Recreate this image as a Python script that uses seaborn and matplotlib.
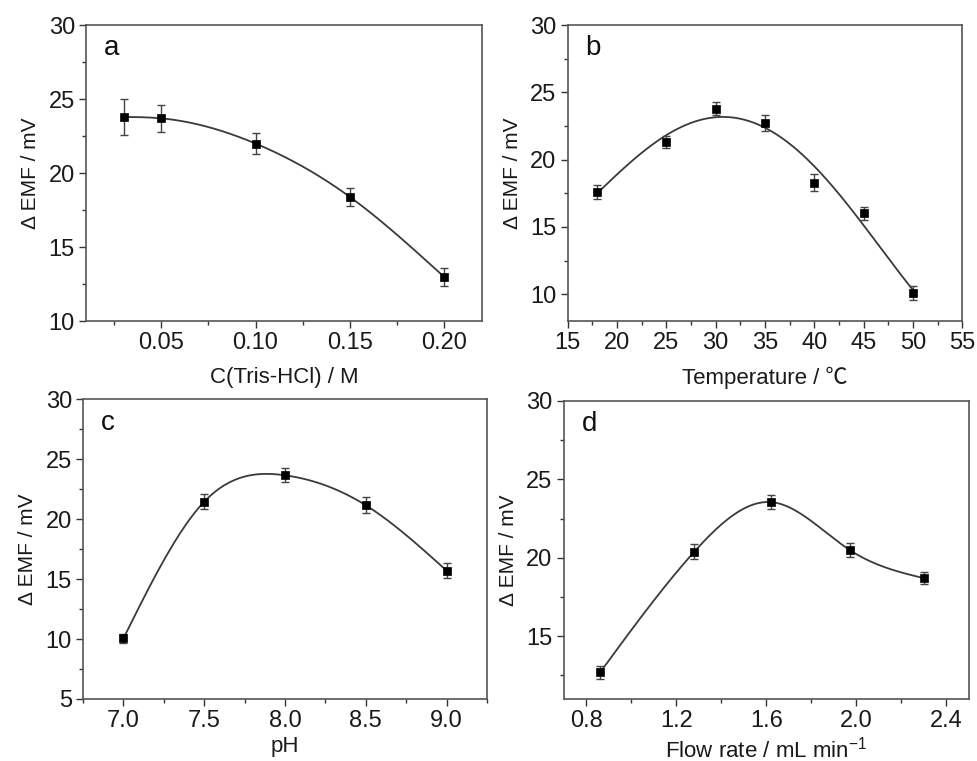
import numpy as np
import pandas as pd
import matplotlib
matplotlib.use("Agg")
import matplotlib.pyplot as plt
import seaborn as sns
from matplotlib.ticker import MultipleLocator, FormatStrFormatter

# data
tris_conc = [0.03, 0.05, 0.10, 0.15, 0.20]
tris_emf = [23.8, 23.7, 22.0, 18.4, 13.0]
tris_err = [1.2, 0.9, 0.7, 0.6, 0.6]

temp = [18, 25, 30, 35, 40, 45, 50]
temp_emf = [17.6, 21.3, 23.8, 22.7, 18.3, 16.0, 10.1]
temp_err = [0.5, 0.45, 0.5, 0.6, 0.6, 0.5, 0.5]

ph = [7.0, 7.5, 8.0, 8.5, 9.0]
ph_emf = [10.05, 21.45, 23.65, 21.15, 15.7]
ph_err = [0.35, 0.65, 0.6, 0.65, 0.6]

flow = [0.862, 1.281, 1.623, 1.971, 2.301]
flow_emf = [12.7, 20.4, 23.55, 20.5, 18.7]
flow_err = [0.4, 0.45, 0.45, 0.45, 0.4]


def spline(x, y, n=300):
    # natural cubic spline through the points
    x = np.asarray(x, float)
    y = np.asarray(y, float)
    k = len(x)
    h = np.diff(x)
    A = np.zeros((k, k))
    r = np.zeros(k)
    A[0, 0] = A[-1, -1] = 1
    for i in range(1, k - 1):
        A[i, i - 1] = h[i - 1]
        A[i, i] = 2 * (h[i - 1] + h[i])
        A[i, i + 1] = h[i]
        r[i] = 3 * ((y[i + 1] - y[i]) / h[i] - (y[i] - y[i - 1]) / h[i - 1])
    c = np.linalg.solve(A, r)
    b = (y[1:] - y[:-1]) / h - h * (2 * c[:-1] + c[1:]) / 3
    d = (c[1:] - c[:-1]) / (3 * h)
    xs = np.linspace(x[0], x[-1], n)
    idx = np.clip(np.searchsorted(x, xs) - 1, 0, k - 2)
    dx = xs - x[idx]
    ys = y[idx] + b[idx] * dx + c[idx] * dx ** 2 + d[idx] * dx ** 3
    return xs, ys


def polyfit_curve(x, y, deg=4, n=300):
    p = np.polyfit(x, y, deg)
    xs = np.linspace(min(x), max(x), n)
    return xs, np.polyval(p, xs)


sns.set_style("ticks")
plt.rcParams['font.family'] = ['Liberation Sans', 'Noto Sans CJK SC', 'DejaVu Sans']
plt.rcParams['mathtext.default'] = 'regular'

fig = plt.figure(figsize=(9.77, 7.61), dpi=100)
positions = [
    [0.088, 0.578, 0.405, 0.389],
    [0.581, 0.578, 0.404, 0.389],
    [0.085, 0.0815, 0.4135, 0.394],
    [0.577, 0.0815, 0.4145, 0.3916],
]

panels = [
    ("a", tris_conc, tris_emf, tris_err, spline(tris_conc, tris_emf),
     "C(Tris-HCl) / M", (0.01, 0.22), (10, 30), 0.05, 0.025, 9),
    ("b", temp, temp_emf, temp_err, polyfit_curve(temp, temp_emf, 4),
     "Temperature / \u2103", (15, 55), (8, 30), 5, 2.5, 9),
    ("c", ph, ph_emf, ph_err, spline(ph, ph_emf),
     "pH", (6.75, 9.25), (5, 30), 0.5, 0.25, 3),
    ("d", flow, flow_emf, flow_err, spline(flow, flow_emf),
     "Flow rate / mL min$^{-1}$", (0.7, 2.5), (11, 30), 0.4, 0.2, 3),
]

for pos, (tag, x, y, err, curve, xlabel, xlim, ylim, xmaj, xmin, lpad) in zip(positions, panels):
    ax = fig.add_axes(pos)
    pts = pd.DataFrame({"x": x, "y": y})
    sns.lineplot(x=curve[0], y=curve[1], ax=ax, color="#3a3a3a", linewidth=1.3)
    ax.errorbar(x, y, yerr=err, fmt="none", ecolor="#444444", elinewidth=1.0,
                capsize=3, capthick=1.0)
    sns.scatterplot(data=pts, x="x", y="y", ax=ax, marker="s", s=38,
                    color="black", edgecolor="black", zorder=5)
    ax.set_xlim(*xlim)
    ax.set_ylim(*ylim)
    ax.xaxis.set_major_locator(MultipleLocator(xmaj))
    ax.xaxis.set_minor_locator(MultipleLocator(xmin))
    ax.yaxis.set_major_locator(MultipleLocator(5))
    ax.yaxis.set_minor_locator(MultipleLocator(2.5))
    if tag == "a":
        ax.set_xticks([0.05, 0.10, 0.15, 0.20])
        ax.xaxis.set_major_formatter(FormatStrFormatter("%.2f"))
    if tag in ("c", "d"):
        ax.xaxis.set_major_formatter(FormatStrFormatter("%.1f"))
    ax.tick_params(which="major", direction="out", length=5, width=1.0,
                   labelsize=17, colors="#333333", labelcolor="#1a1a1a", pad=3)
    ax.tick_params(which="minor", direction="out", length=3, width=1.0, colors="#333333")
    for sp in ax.spines.values():
        sp.set_visible(True)
        sp.set_color("#555555")
        sp.set_linewidth(1.2)
    ax.set_xlabel(xlabel, fontsize=16, color="#1a1a1a", labelpad=lpad)
    ax.set_ylabel("\u0394 EMF / mV", fontsize=15, color="#1a1a1a", labelpad=6)
    ax.text(0.045, 0.965, tag, transform=ax.transAxes, fontsize=20,
            va="top", ha="left", color="#111111")

fig.savefig("out.png", dpi=100, facecolor="white")
